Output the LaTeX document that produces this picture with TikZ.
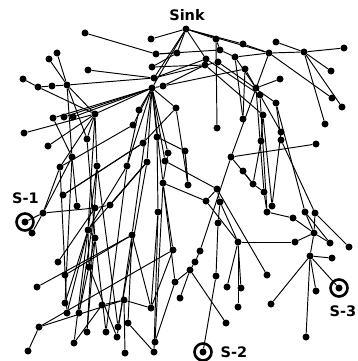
\documentclass[tikz,border=0pt]{standalone}
\usepackage{fontspec}
\setsansfont{DejaVu Sans}
\begin{document}
\begin{tikzpicture}[x=1pt,y=-1pt,
  dot/.style={circle,fill=black,inner sep=0pt,minimum size=7pt},
  edge/.style={line width=0.95pt},
  ring/.style={circle,draw,line width=2.6pt,minimum size=17pt,inner sep=0pt},
  lbl/.style={font=\sffamily\bfseries\fontsize{14.5}{14.5}\selectfont,inner sep=0pt}]
\useasboundingbox (0,0) rectangle (357,361);
\foreach \n/\x/\y in {root/186/29,a1/151/39,a2/156/54,a3/177/53,a4/152/67,a5/85/33,a6/57/53,a7/49/59,a8/88/70,a9/23/79,a10/38/87,a11/52/86,h3/67/85,a12/154/78,h1/152/88,a13/163/86,
b1/216/39,b2/243/44,b3/276/42,b4/269/53,b5/304/52,b6/344/48,b7/220/50,b8/235/57,b9/206/59,b10/218/62,b11/205/65,b12/245/69,b13/331/71,b14/280/79,b15/256/88,b16/260/95,b17/332/98,b18/342/107,b19/276/103,b20/263/115,b21/243/119,b22/217/128,b23/325/124,b24/281/132,b25/281/140,b26/261/141,b27/316/144,b28/231/157,b29/243/171,
h2/95/114,c1/176/108,c2/139/110,c3/133/125,c4/64/117,c5/53/118,c6/73/117,c7/24/133,c8/48/146,c9/87/139,c10/157/137,c11/143/143,c12/72/157,c13/60/167,c14/97/166,c15/127/166,c16/147/162,c17/165/161,e1/168/153,e2/185/151,
c18/43/213,S1/25/222,c19/32/233,c20/63/195,c21/77/206,c22/95/208,c23/110/205,c24/163/183,c25/158/212,c26/88/230,c27/95/238,c28/132/235,c29/173/250,c30/58/262,c31/89/267,c32/65/275,c33/37/287,c34/175/282,c35/124/300,c36/102/305,c37/65/303,c38/67/313,c39/79/313,c40/151/308,c41/39/327,c42/118/327,c43/128/323,c44/87/332,c45/106/332,c46/117/337,c47/74/343,c48/155/342,c49/28/351,c50/125/353,c51/154/352,
d1/188/185,d2/217/189,d3/220/202,d4/206/201,d5/218/223,d6/253/184,d7/264/192,d8/272/206,d9/267/212,d10/293/218,d11/305/212,d12/315/213,d13/314/233,d14/238/242,d15/295/242,d16/330/243,d17/349/247,d18/200/251,d19/310/256,d20/332/258,d21/195/262,d22/190/270,d23/216/276,d24/267/275,d25/227/287,d26/241/288,d27/316/291,S3/339/288,d28/180/298,d29/238/307,d30/271/304,d31/226/323,d32/306/337,S2/203/352}
  \node[dot] (\n) at (\x,\y) {};
\foreach \a/\b in {root/a1,root/a3,root/b1,root/b2,root/b4,root/a12,root/h1,root/b9,
a5/a2,a2/a3,a2/b7,a4/b11,a4/a3,a12/b9,a12/b10,h1/a13,a13/b11,a13/b12,a8/a12,
b1/b22,b1/b7,b7/b8,b8/b15,b9/b16,b10/b19,b11/b20,b12/b15,b14/b15,b2/b4,b3/b5,b4/b5,b5/b6,b5/b13,b5/b18,b5/b23,b4/b17,b4/b28,b4/b8,b16/b24,b19/b25,b20/b26,b12/b21,b8/b21,b28/b27,b26/d6,b24/d8,b25/d12,b19/d11,b15/d7,b16/d9,b20/d8,
h1/c1,c1/d1,c1/c11,h1/c2,h1/c3,h1/c10,h1/c16,h1/c17,h1/c24,h1/c15,h1/e1,c2/c15,c3/c13,c10/e2,e1/c24,c17/d2,e2/d1,c16/c23,c16/c26,c11/c20,c10/c25,h1/c28,
h3/a6,h3/a7,h3/a11,h3/a12,h3/h2,h3/c12,h3/c9,a10/a9,a10/h2,a11/a10,h2/h1,c4/h1,c6/h1,c5/h1,c7/h2,c8/h2,h2/c9,h2/c14,h2/c13,c5/c12,
S1/c18,c18/c12,c18/c13,c18/c22,c19/c18,c20/c11,c21/c12,c22/c23,c23/c16,c26/c14,c26/c15,c27/c26,c26/c38,c27/c44,c30/c22,c31/c26,c32/c28,c33/c28,c29/c24,c34/c24,c35/c40,c35/c36,c41/c35,c41/c49,c37/c26,c39/c27,c40/c25,c42/c14,c43/c28,c45/c27,c46/c31,c47/c36,c48/c34,c34/d22,c50/c35,c51/c43,c40/c29,
c12/c37,c13/c38,h2/c26,c9/c27,c14/c44,c15/c45,c16/c42,c28/c40,c28/c46,c24/c48,c25/c51,c29/c41,c26/c47,c22/c39,
d1/e2,d2/d3,d3/d5,d5/d23,d23/S2,d4/d2,d4/c24,d6/b28,d6/d7,d7/d9,b29/d6,d9/d10,d10/d13,d11/d13,d12/d13,d13/d15,d15/d14,d13/d16,d12/d17,d11/d16,d13/d19,d19/d20,S3/d19,d30/d19,d32/d19,d14/d25,d14/d26,d14/d29,d24/d2,d14/d4,d18/b28,d21/d18,d22/d21,d28/d22,d31/d22,d19/d27,d14/d3}
  \draw[edge] (\a) -- (\b);
\node[ring] (r1) at (S1) {};
\node[ring] (r2) at (S2) {};
\node[ring] (r3) at (S3) {};
\node[lbl] (tsink) at (187,15.5) {Sink};
\node[lbl] (t1) at (25.5,198.5) {S-1};
\node[lbl] (t2) at (234,352.5) {S-2};
\node[lbl] (t3) at (343,311) {S-3};
\end{tikzpicture}
\end{document}
